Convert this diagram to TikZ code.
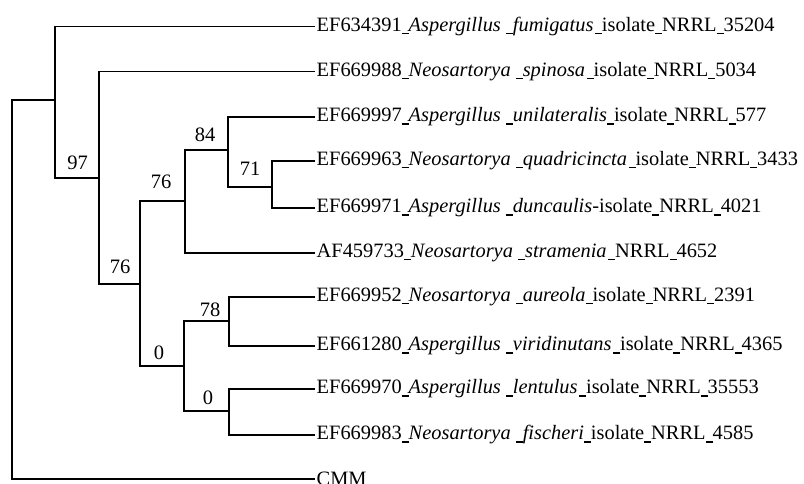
\documentclass[tikz,border=0pt]{standalone}
\usepackage{fontspec}
\setmainfont{Liberation Serif}
\newcommand\us{\rule[-2.6pt]{7pt}{1.1pt}}
\newcommand\tsp{\hspace{1.5pt}}
\begin{document}
\begin{tikzpicture}[x=1pt,y=-1pt,
  br/.style={line width=1.1pt,line cap=rect},
  leaf/.style={anchor=west,inner xsep=2.5pt,inner ysep=0pt,font=\fontsize{20.4}{24}\selectfont},
  bs/.style={inner sep=0pt,font=\fontsize{20.5}{24}\selectfont}]
\useasboundingbox (0,0) rectangle (804,483);
% internal nodes
\coordinate (R) at (12,300);
\coordinate (A) at (55,100);
\coordinate (B) at (99,178);
\coordinate (C) at (140,284);
\coordinate (D) at (185,201);
\coordinate (E) at (184,366);
\coordinate (F) at (228,150);
\coordinate (G) at (272,187);
\coordinate (H) at (229,321);
\coordinate (I) at (229,411);
% leaves
\node[leaf] (l1) at (314,26.5) {EF634391\us\textit{Aspergillus} \us\textit{fumigatus}\tsp\us isolate\us NRRL\us 35204};
\node[leaf] (l2) at (314,71.7) {EF669988\us\textit{Neosartorya} \us\textit{spinosa}\tsp\us isolate\us NRRL\us 5034};
\node[leaf] (l3) at (314,117) {EF669997\us\textit{Aspergillus} \us\textit{unilateralis}\us isolate\us NRRL\us 577};
\node[leaf] (l4) at (314,161) {EF669963\us\textit{Neosartorya} \us\textit{quadricincta}\tsp\us isolate\us NRRL\us 3433};
\node[leaf] (l5) at (314,208) {EF669971\us\textit{Aspergillus} \us\textit{duncaulis}-isolate\us NRRL\us 4021};
\node[leaf] (l6) at (314,253) {AF459733\us\textit{Neosartorya} \us\textit{stramenia}\tsp\us NRRL\us 4652};
\node[leaf] (l7) at (314,297) {EF669952\us\textit{Neosartorya} \us\textit{aureola}\us isolate\us NRRL\us 2391};
\node[leaf] (l8) at (314,346) {EF661280\us\textit{Aspergillus} \us\textit{viridinutans}\tsp\us isolate\us NRRL\us 4365};
\node[leaf] (l9) at (314,389) {EF669970\us\textit{Aspergillus} \us\textit{lentulus}\tsp\us isolate\us NRRL\us 35553};
\node[leaf] (l10) at (314,435) {EF669983\us\textit{Neosartorya} \us\textit{fischeri}\us isolate\us NRRL\us 4585};
\node[leaf] (l11) at (314,479) {CMM};
% branches
\draw[br] (R) |- (A);
\draw[br] (R) |- (l11.west);
\draw[br] (A) |- (l1.west);
\draw[br] (A) |- (B);
\draw[br] (B) |- (l2.west);
\draw[br] (B) |- (C);
\draw[br] (C) |- (D);
\draw[br] (C) |- (E);
\draw[br] (D) |- (F);
\draw[br] (D) |- (l6.west);
\draw[br] (F) |- (l3.west);
\draw[br] (F) |- (G);
\draw[br] (G) |- (l4.west);
\draw[br] (G) |- (l5.west);
\draw[br] (E) |- (H);
\draw[br] (E) |- (I);
\draw[br] (H) |- (l7.west);
\draw[br] (H) |- (l8.west);
\draw[br] (I) |- (l9.west);
\draw[br] (I) |- (l10.west);
% bootstrap labels
\node[bs] (b97) at (77.5,163) {97};
\node[bs] (b76a) at (120,267) {76};
\node[bs] (b76b) at (161,182) {76};
\node[bs] (b0a) at (159,353) {0};
\node[bs] (b84) at (205,135) {84};
\node[bs] (b71) at (250,169) {71};
\node[bs] (b78) at (210,310) {78};
\node[bs] (b0b) at (208,398) {0};
\end{tikzpicture}
\end{document}
